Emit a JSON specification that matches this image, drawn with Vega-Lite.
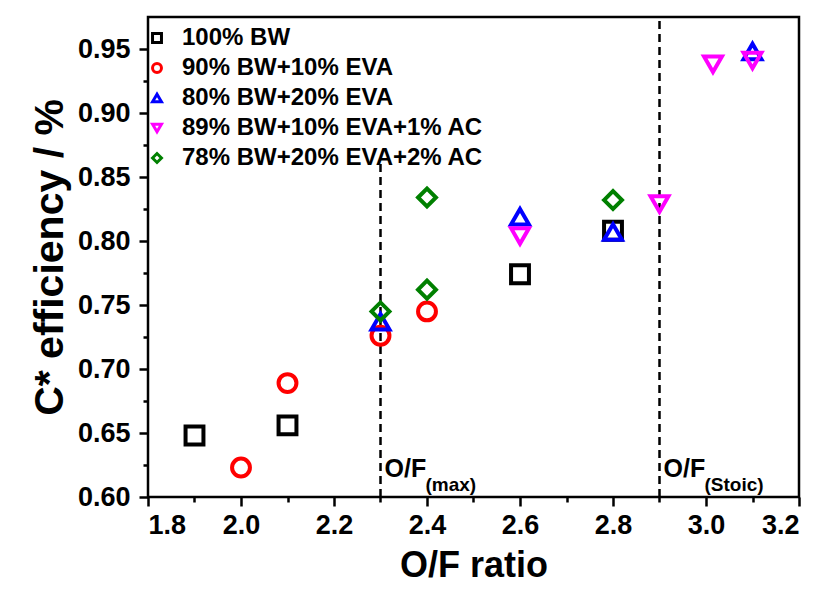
{
  "$schema": "https://vega.github.io/schema/vega-lite/v6.json",
  "width": 651,
  "height": 480,
  "autosize": "none",
  "padding": {"left": 148, "top": 17, "right": 20, "bottom": 97},
  "config": {
    "view": {"stroke": "#000000", "strokeWidth": 2.5},
    "font": "Liberation Sans",
    "axis": {
      "labelFont": "Liberation Sans", "labelFontWeight": "bold", "labelFontSize": 27, "labelColor": "#000000",
      "titleFont": "Liberation Sans", "titleFontWeight": "bold", "titleFontSize": 36, "titleColor": "#000000",
      "tickColor": "#000000", "tickWidth": 2.5, "tickSize": 9, "domain": false, "grid": false
    }
  },
  "datasets": {
    "pts": [
      {"s": "100% BW", "x": 1.9, "y": 0.648},
      {"s": "100% BW", "x": 2.1, "y": 0.656},
      {"s": "100% BW", "x": 2.6, "y": 0.774},
      {"s": "100% BW", "x": 2.8, "y": 0.808},
      {"s": "90% BW+10% EVA", "x": 2.0, "y": 0.623},
      {"s": "90% BW+10% EVA", "x": 2.1, "y": 0.689},
      {"s": "90% BW+10% EVA", "x": 2.3, "y": 0.726},
      {"s": "90% BW+10% EVA", "x": 2.4, "y": 0.745},
      {"s": "80% BW+20% EVA", "x": 2.3, "y": 0.737},
      {"s": "80% BW+20% EVA", "x": 2.6, "y": 0.819},
      {"s": "80% BW+20% EVA", "x": 2.8, "y": 0.807},
      {"s": "80% BW+20% EVA", "x": 3.1, "y": 0.948},
      {"s": "89% BW+10% EVA+1% AC", "x": 2.6, "y": 0.804},
      {"s": "89% BW+10% EVA+1% AC", "x": 2.9, "y": 0.829},
      {"s": "89% BW+10% EVA+1% AC", "x": 3.015, "y": 0.938},
      {"s": "89% BW+10% EVA+1% AC", "x": 3.1, "y": 0.941},
      {"s": "78% BW+20% EVA+2% AC", "x": 2.3, "y": 0.745},
      {"s": "78% BW+20% EVA+2% AC", "x": 2.4, "y": 0.834},
      {"s": "78% BW+20% EVA+2% AC", "x": 2.4, "y": 0.762},
      {"s": "78% BW+20% EVA+2% AC", "x": 2.8, "y": 0.832}
    ],
    "rules": [
      {"x": 2.3, "y": 0.6, "y2": 0.863},
      {"x": 2.9, "y": 0.6, "y2": 0.975}
    ],
    "labels": [
      {"x": 2.3, "y": 0.6156, "t": "O/F"},
      {"x": 2.9, "y": 0.6156, "t": "O/F"}
    ],
    "subs": [
      {"x": 2.3, "y": 0.6045, "t": "(max)"},
      {"x": 2.9, "y": 0.6045, "t": "(Stoic)"}
    ]
  },
  "resolve": {"axis": {"x": "independent", "y": "independent"}},
  "layer": [
    {
      "data": {"name": "rules"},
      "mark": {"type": "rule", "color": "#000000", "strokeWidth": 2.5, "strokeDash": [8, 5]},
      "encoding": {
        "x": {"field": "x", "type": "quantitative", "scale": {"domain": [1.8, 3.2], "nice": false, "zero": false},
          "axis": {"orient": "bottom", "values": [1.8, 2.0, 2.2, 2.4, 2.6, 2.8, 3.0, 3.2], "format": ".1f", "labelPadding": 6, "title": "O/F ratio", "titlePadding": 10}},
        "y": {"field": "y", "type": "quantitative", "scale": {"domain": [0.6, 0.975], "nice": false, "zero": false},
          "axis": {"orient": "left", "values": [0.6, 0.65, 0.7, 0.75, 0.8, 0.85, 0.9, 0.95], "format": ".2f", "labelPadding": 9, "title": "C* efficiency / %", "titleFontSize": 41, "titlePadding": 6}},
        "y2": {"field": "y2"}
      }
    },
    {
      "data": {"name": "pts"},
      "mark": {"type": "point", "filled": false, "strokeWidth": 4, "size": 320, "opacity": 1},
      "encoding": {
        "x": {"field": "x", "type": "quantitative", "axis": {"orient": "bottom", "values": [1.9, 2.1, 2.3, 2.5, 2.7, 2.9, 3.1], "labels": false, "tickSize": 5, "title": null}},
        "y": {"field": "y", "type": "quantitative", "axis": {"orient": "left", "values": [0.625, 0.675, 0.725, 0.775, 0.825, 0.875, 0.925], "labels": false, "tickSize": 5, "title": null}},
        "color": {"field": "s", "type": "nominal",
          "scale": {"domain": ["100% BW", "90% BW+10% EVA", "80% BW+20% EVA", "89% BW+10% EVA+1% AC", "78% BW+20% EVA+2% AC"],
                    "range": ["#000000", "#ff0000", "#0000ff", "#ff00ff", "#008000"]},
          "legend": {"orient": "none", "legendX": -3, "legendY": 9, "title": null, "labelFont": "Liberation Sans", "labelFontWeight": "bold", "labelFontSize": 24, "labelColor": "#000000", "labelLimit": 0, "symbolSize": 80, "symbolStrokeWidth": 3, "rowPadding": 6, "labelOffset": 13, "symbolFillColor": "transparent"}},
        "shape": {"field": "s", "type": "nominal",
          "scale": {"domain": ["100% BW", "90% BW+10% EVA", "80% BW+20% EVA", "89% BW+10% EVA+1% AC", "78% BW+20% EVA+2% AC"],
                    "range": ["square", "circle", "triangle-up", "triangle-down", "diamond"]}}
      }
    },
    {
      "data": {"name": "labels"},
      "mark": {"type": "text", "align": "left", "baseline": "alphabetic", "dx": 4, "fontSize": 25, "fontWeight": "bold", "font": "Liberation Sans", "color": "#000000"},
      "encoding": {
        "x": {"field": "x", "type": "quantitative", "axis": null},
        "y": {"field": "y", "type": "quantitative", "axis": null},
        "text": {"field": "t"}
      }
    },
    {
      "data": {"name": "subs"},
      "mark": {"type": "text", "align": "left", "baseline": "alphabetic", "dx": 45, "fontSize": 19, "fontWeight": "bold", "font": "Liberation Sans", "color": "#000000"},
      "encoding": {
        "x": {"field": "x", "type": "quantitative", "axis": null},
        "y": {"field": "y", "type": "quantitative", "axis": null},
        "text": {"field": "t"}
      }
    }
  ]
}
